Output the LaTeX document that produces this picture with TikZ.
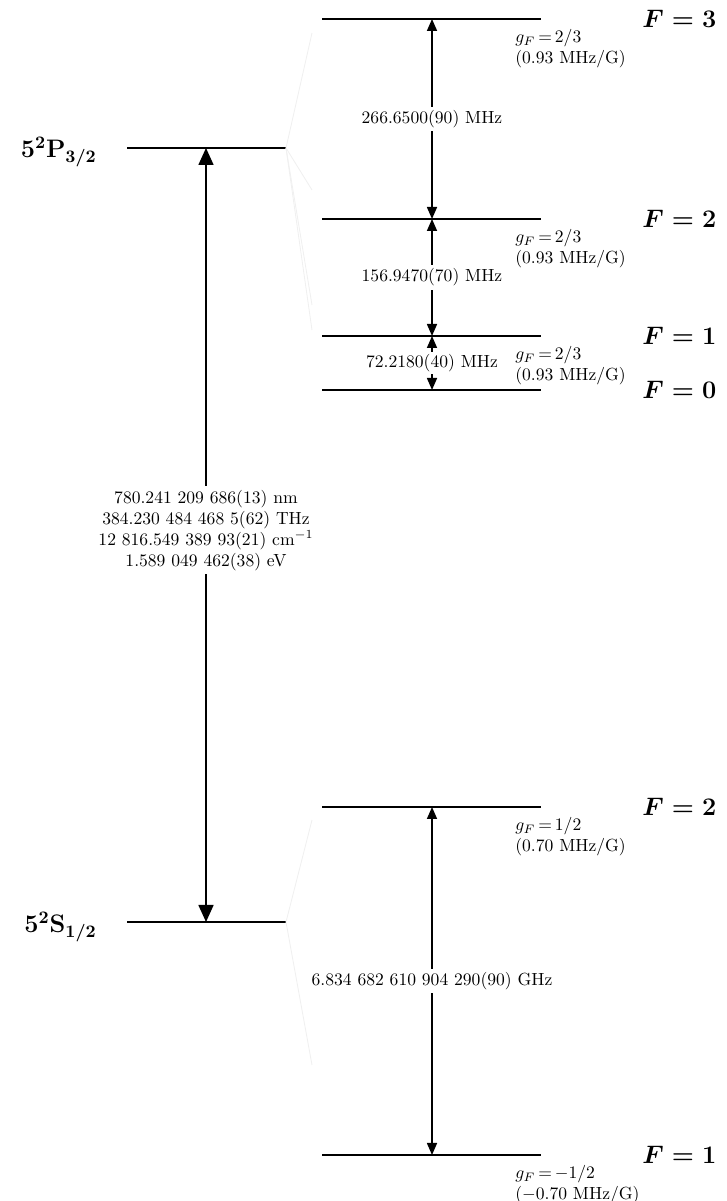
\documentclass[tikz,border=0pt]{standalone}
\usetikzlibrary{arrows.meta}

\begin{document}
\begin{tikzpicture}[
    level/.style={line width=0.9pt},
    fade/.style={gray!12, line width=0.5pt},
    bigarrow/.style={line width=0.9pt, {Triangle[length=3.4mm,width=3mm]}-{Triangle[length=3.4mm,width=3mm]}},
    hfarrow/.style={line width=0.9pt, {Triangle[length=2.4mm,width=2mm]}-{Triangle[length=2.4mm,width=2mm]}},
    gflabel/.style={anchor=north west, align=left, inner sep=0pt, font=\normalsize},
    flabel/.style={anchor=west, inner sep=0pt, font=\Large\boldmath},
    finelabel/.style={anchor=east, inner sep=0pt, font=\Large\boldmath},
    freq/.style={fill=white, inner sep=2pt}
  ]
  \useasboundingbox (0,0) rectangle (14.52,24.02);

  % Fine structure levels
  \coordinate (P32l) at (2.54,21.06);
  \coordinate (P32r) at (5.72,21.06);
  \coordinate (S12l) at (2.54,5.58);
  \coordinate (S12r) at (5.72,5.58);
  \draw[level] (P32l) -- (P32r);
  \draw[level] (S12l) -- (S12r);
  \node[finelabel] (P32lab) at (1.94,20.98) {$5^2\mathrm{P}_{3/2}$};
  \node[finelabel] (S12lab) at (1.94,5.48) {$5^2\mathrm{S}_{1/2}$};

  % D2 transition
  \coordinate (P32a) at (4.12,21.06);
  \coordinate (S12a) at (4.12,5.58);
  \draw[bigarrow] (P32a) -- node[freq, align=center, pos=0.494] (d2lab)
    {780.241 209 686(13) nm\\384.230 484 468 5(62) THz\\12 816.549 389 93(21) cm$^{-1}$\\1.589 049 462(38) eV} (S12a);

  % Excited state hyperfine levels
  \foreach \name/\y in {F3/23.64, F2/19.64, F1/17.30, F0/16.22} {
    \coordinate (\name l) at (6.44,\y);
    \coordinate (\name r) at (10.82,\y);
    \coordinate (\name a) at (8.64,\y);
    \draw[level] (\name l) -- (\name r);
  }
  \node[flabel] (F3lab) at (12.84,23.64) {$F = 3$};
  \node[flabel] (F2lab) at (12.84,19.64) {$F = 2$};
  \node[flabel] (F1lab) at (12.84,17.30) {$F = 1$};
  \node[flabel] (F0lab) at (12.84,16.22) {$F = 0$};
  \node[gflabel] (F3gf) at (10.30,23.44) {$g_F\,{=}\,2/3$\\(0.93 MHz/G)};
  \node[gflabel] (F2gf) at (10.30,19.44) {$g_F\,{=}\,2/3$\\(0.93 MHz/G)};
  \node[gflabel] (F1gf) at (10.30,17.10) {$g_F\,{=}\,2/3$\\(0.93 MHz/G)};

  \draw[hfarrow] (F3a) -- node[freq] (s32) {266.6500(90) MHz} (F2a);
  \draw[hfarrow] (F2a) -- node[freq] (s21) {156.9470(70) MHz} (F1a);
  \draw[hfarrow] (F1a) -- node[freq, inner sep=1pt] (s10) {72.2180(40) MHz} (F0a);

  % Ground state hyperfine levels
  \foreach \name/\y in {G2/7.88, G1/0.92} {
    \coordinate (\name l) at (6.44,\y);
    \coordinate (\name r) at (10.82,\y);
    \coordinate (\name a) at (8.64,\y);
    \draw[level] (\name l) -- (\name r);
  }
  \node[flabel] (G2lab) at (12.84,7.88) {$F = 2$};
  \node[flabel] (G1lab) at (12.84,0.92) {$F = 1$};
  \node[gflabel] (G2gf) at (10.30,7.68) {$g_F\,{=}\,1/2$\\(0.70 MHz/G)};
  \node[gflabel] (G1gf) at (10.30,0.72) {$g_F\,{=}\,{-}1/2$\\($-$0.70 MHz/G)};

  \draw[hfarrow] (G2a) -- node[freq] (s21g) {6.834 682 610 904 290(90) GHz} (G1a);

  % Faint splitting guides
  \coordinate (P32f3) at (6.24,23.36);
  \coordinate (P32f2) at (6.24,20.22);
  \coordinate (P32f1) at (6.24,17.92);
  \coordinate (P32f0) at (6.24,17.42);
  \coordinate (S12f2) at (6.24,7.62);
  \coordinate (S12f1) at (6.24,2.72);
  \foreach \t in {P32f3, P32f2, P32f1, P32f0} \draw[fade] (P32r) -- (\t);
  \foreach \t in {S12f2, S12f1} \draw[fade] (S12r) -- (\t);
\end{tikzpicture}
\end{document}
